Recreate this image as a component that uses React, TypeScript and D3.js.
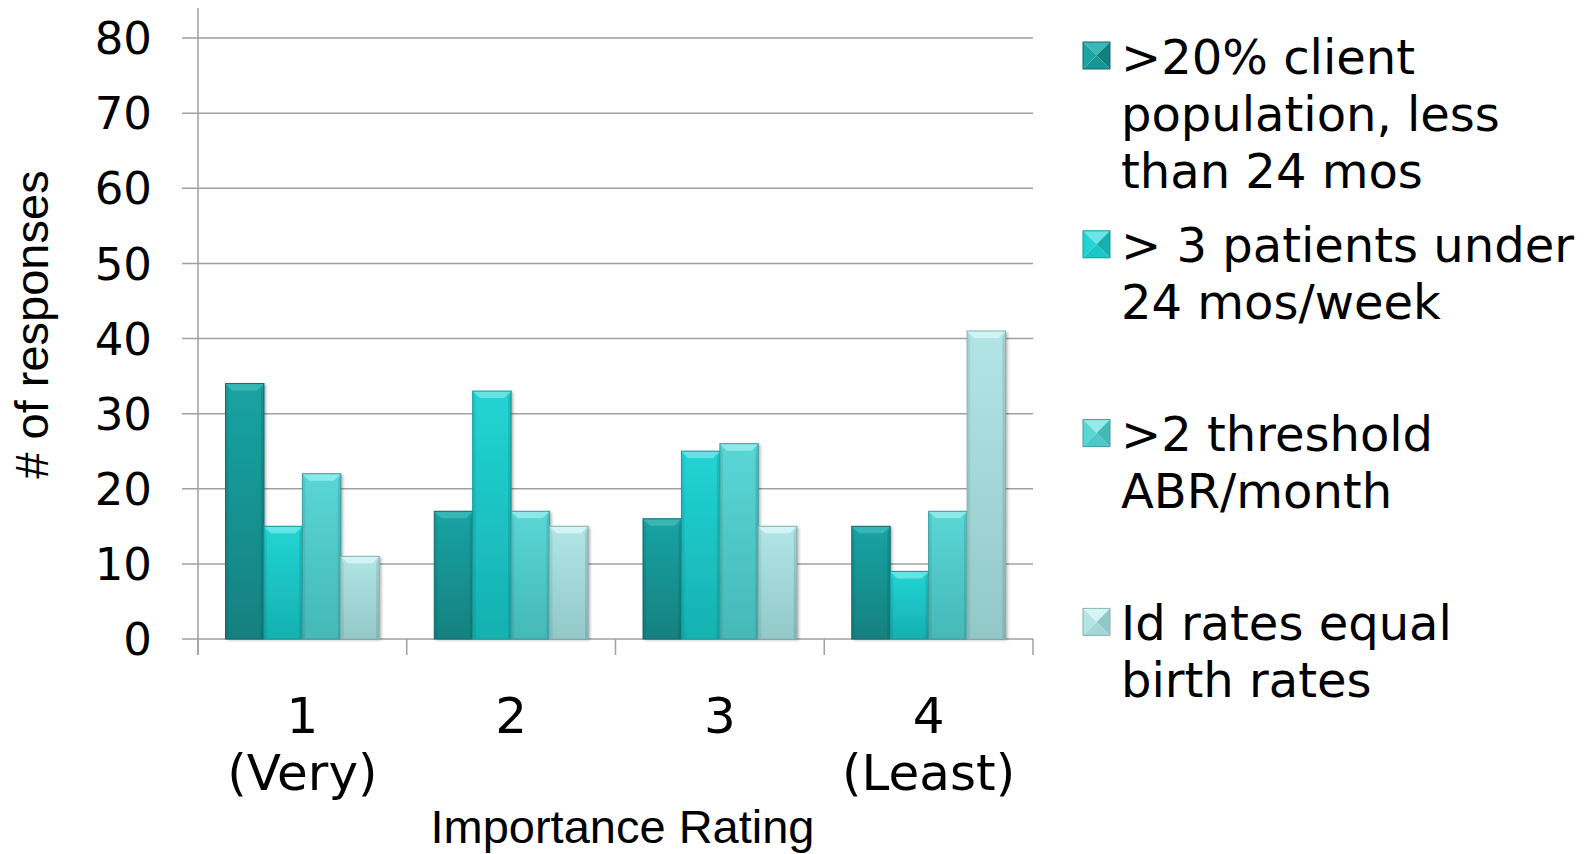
import React from "react";
import * as d3 from "d3";

const categories = ["1", "2", "3", "4"];
const categorySub = ["(Very)", "", "", "(Least)"];
const seriesNames = [
  ">20% client population, less than 24 mos",
  "> 3 patients under 24 mos/week",
  ">2 threshold ABR/month",
  "Id rates equal birth rates",
];
const legendLines = [
  [">20% client", "population, less", "than 24 mos"],
  ["> 3 patients under", "24 mos/week"],
  [">2 threshold", "ABR/month"],
  ["Id rates equal", "birth rates"],
];
const series1 = [34, 17, 16, 15];
const series2 = [15, 33, 25, 9];
const series3 = [22, 17, 26, 17];
const series4 = [11, 15, 15, 41];
const seriesValues = [series1, series2, series3, series4];
const yTicks = [0, 10, 20, 30, 40, 50, 60, 70, 80];

const palette = [
  { light: "#1AA3A3", base: "#179696", dark: "#138080", bevel: "#3CB8B8", edge: "#0E6B6B" },
  { light: "#22D4D4", base: "#1CC6C6", dark: "#16B0B0", bevel: "#6BE6E6", edge: "#129A9A" },
  { light: "#5AD6D6", base: "#50C8C8", dark: "#45B8B8", bevel: "#94EBEB", edge: "#3A9E9E" },
  { light: "#B2E6E6", base: "#A4D8D8", dark: "#93C8C8", bevel: "#D6F5F5", edge: "#84B4B4" },
];

const W = 1594;
const H = 854;
const left = 198;
const right = 1033;
const top = 38;
const bottom = 639;

export default function App() {
  const x0 = d3.scaleBand<string>().domain(categories).range([left, right]).padding(0);
  const bw = x0.bandwidth();
  const x1 = d3
    .scaleBand<number>()
    .domain(d3.range(seriesNames.length))
    .range([27.5, bw - 27.5])
    .padding(0);
  const y = d3.scaleLinear().domain([0, 80]).range([bottom, top]);
  const grid = "#A0A0A0";
  const sans = "'DejaVu Sans', Verdana, sans-serif";
  const arial = "'Liberation Sans', Arial, sans-serif";

  const bars: React.ReactNode[] = [];
  categories.forEach((c, ci) => {
    seriesValues.forEach((vals, si) => {
      const v = vals[ci];
      const bx = (x0(c) as number) + (x1(si) as number);
      const w = x1.bandwidth();
      const by = y(v);
      const h = y(0) - by;
      const p = palette[si];
      const b = Math.min(7, h / 2);
      const s = 3;
      bars.push(
        <g key={`b-${ci}-${si}`}>
          <rect x={bx} y={by} width={w} height={h} fill={`url(#grad${si})`} filter="url(#shadow)" />
          <polygon
            points={`${bx},${by} ${bx + w},${by} ${bx + w - b},${by + b} ${bx + b},${by + b}`}
            fill={p.bevel}
            opacity={0.9}
          />
          <polygon
            points={`${bx},${by} ${bx + s},${by + b} ${bx + s},${by + h} ${bx},${by + h}`}
            fill="#000"
            opacity={0.07}
          />
          <polygon
            points={`${bx + w},${by} ${bx + w - s},${by + b} ${bx + w - s},${by + h} ${bx + w},${by + h}`}
            fill="#000"
            opacity={0.1}
          />
          <rect x={bx} y={by} width={w} height={h} fill="none" stroke={p.edge} strokeWidth={1} />
        </g>
      );
    });
  });

  const legendX = 1083;
  const legendTextX = 1121;
  const legendBase0 = 73.5;
  const legendStep = 188.8;
  const lineH = 57;
  const m = 27;

  return (
    <svg
      width={W}
      height={H}
      style={{ position: "absolute", left: 0, top: 0, display: "block", background: "#fff" }}
    >
      <defs>
        {palette.map((p, i) => (
          <linearGradient key={i} id={`grad${i}`} x1="0" y1="0" x2="0" y2="1">
            <stop offset="0" stopColor={p.light} />
            <stop offset="1" stopColor={p.dark} />
          </linearGradient>
        ))}
        <filter id="shadow" x="-20%" y="-5%" width="150%" height="115%">
          <feDropShadow dx="2" dy="1" stdDeviation="1.5" floodColor="#000" floodOpacity="0.3" />
        </filter>
      </defs>

      {yTicks.map((t) => (
        <line key={`g${t}`} x1={182} x2={right} y1={y(t)} y2={y(t)} stroke={grid} strokeWidth={1.5} />
      ))}
      <line x1={left} x2={left} y1={8} y2={655} stroke={grid} strokeWidth={1.5} />
      {[...categories.map((c) => x0(c) as number), right].map((xx, i) => (
        <line key={`ct${i}`} x1={xx} x2={xx} y1={bottom} y2={655} stroke={grid} strokeWidth={1.5} />
      ))}

      {bars}

      {yTicks.map((t) => (
        <text
          key={`yl${t}`}
          x={152}
          y={y(t)}
          dy="0.36em"
          textAnchor="end"
          fontFamily={sans}
          fontSize={45}
          fill="#000"
        >
          {t}
        </text>
      ))}

      {categories.map((c, i) => {
        const cx = (x0(c) as number) + bw / 2;
        return (
          <g key={`cl${i}`}>
            <text x={cx} y={733} textAnchor="middle" fontFamily={sans} fontSize={50} fill="#000">
              {c}
            </text>
            {categorySub[i] && (
              <text x={cx} y={790} textAnchor="middle" fontFamily={sans} fontSize={50} fill="#000">
                {categorySub[i]}
              </text>
            )}
          </g>
        );
      })}

      <text x={(left + right) / 2 + 7} y={843} textAnchor="middle" fontFamily={arial} fontSize={47} fill="#000">
        Importance Rating
      </text>
      <text
        transform={`translate(48, 324.5) rotate(-90)`}
        textAnchor="middle"
        fontFamily={arial}
        fontSize={47}
        fill="#000"
      >
        # of responses
      </text>

      {legendLines.map((lines, i) => {
        const base = legendBase0 + i * legendStep;
        const my = base - 18 - m / 2;
        const p = palette[i];
        const mx = legendX;
        const cx = mx + m / 2;
        const cy = my + m / 2;
        return (
          <g key={`lg${i}`}>
            <polygon points={`${mx},${my} ${mx + m},${my} ${cx},${cy}`} fill={p.bevel} />
            <polygon points={`${mx},${my} ${cx},${cy} ${mx},${my + m}`} fill={p.light} />
            <polygon points={`${mx + m},${my} ${cx},${cy} ${mx + m},${my + m}`} fill={p.dark} />
            <polygon points={`${mx},${my + m} ${cx},${cy} ${mx + m},${my + m}`} fill={p.base} />
            <rect x={mx} y={my} width={m} height={m} fill="none" stroke={p.edge} strokeWidth={1} />
            {lines.map((ln, j) => (
              <text
                key={j}
                x={legendTextX}
                y={base + j * lineH}
                fontFamily={sans}
                fontSize={48}
                fill="#000"
              >
                {ln}
              </text>
            ))}
          </g>
        );
      })}
    </svg>
  );
}
